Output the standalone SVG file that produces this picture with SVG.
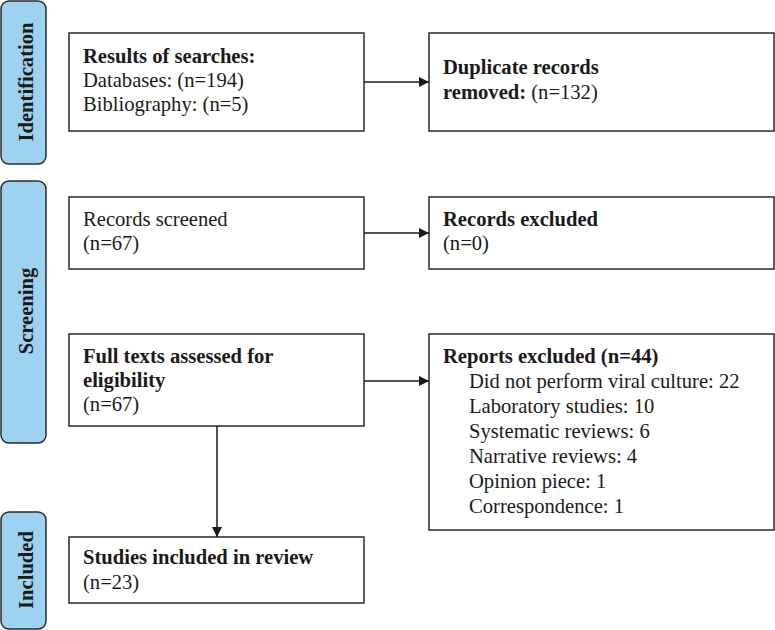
<svg xmlns="http://www.w3.org/2000/svg" width="775" height="630" viewBox="0 0 775 630">
<style>
.tab{fill:#9dd3f0;stroke:#2a2a2a;stroke-width:1.5}
.box{fill:#fff;stroke:#2a2a2a;stroke-width:1.5}
text{font-family:"Liberation Serif","Times New Roman",serif;font-size:20.6px;fill:#1a1a1a}
.b{font-weight:bold}
.tl{font-weight:bold;text-anchor:middle}
.c{stroke:#1a1a1a;stroke-width:1.5;fill:none}
</style>
<defs>
<marker id="ah" viewBox="0 0 10 10" refX="10" refY="5" markerWidth="10" markerHeight="10" markerUnits="userSpaceOnUse" orient="auto">
<path d="M0,0 L10,5 L0,10 z" fill="#1a1a1a"/>
</marker>
</defs>
<rect width="775" height="630" fill="#fff"/>
<g id="tab-identification"><rect class="tab" x="1" y="1" width="45" height="163" rx="8"/><text class="tl" transform="translate(33,82) rotate(-90)">Identification</text></g>
<g id="tab-screening"><rect class="tab" x="1" y="181" width="45" height="262" rx="8"/><text class="tl" transform="translate(33,311) rotate(-90)">Screening</text></g>
<g id="tab-included"><rect class="tab" x="1" y="512" width="45" height="117" rx="8"/><text class="tl" transform="translate(33,570) rotate(-90)">Included</text></g>
<g id="n-search"><rect class="box" x="69" y="33" width="295" height="98"/>
<text x="83" y="63" class="b">Results of searches:</text>
<text x="83" y="87">Databases: (n=194)</text>
<text x="83" y="111">Bibliography: (n=5)</text></g>
<g id="n-duplicates"><rect class="box" x="429" y="33" width="345" height="98"/>
<text x="443" y="74" class="b">Duplicate records</text>
<text x="443" y="99"><tspan class="b">removed:</tspan> (n=132)</text></g>
<g id="n-screened"><rect class="box" x="69" y="197" width="295" height="72"/>
<text x="83" y="226">Records screened</text>
<text x="83" y="250">(n=67)</text></g>
<g id="n-rec-excluded"><rect class="box" x="429" y="197" width="345" height="72"/>
<text x="443" y="226" class="b">Records excluded</text>
<text x="443" y="250">(n=0)</text></g>
<g id="n-fulltext"><rect class="box" x="69" y="334" width="295" height="92"/>
<text x="83" y="363" class="b">Full texts assessed for</text>
<text x="83" y="387" class="b">eligibility</text>
<text x="83" y="411">(n=67)</text></g>
<g id="n-rep-excluded"><rect class="box" x="429" y="334" width="345" height="196"/>
<text x="443" y="363" class="b">Reports excluded (n=44)</text>
<text x="469" y="388">Did not perform viral culture: 22</text>
<text x="469" y="413">Laboratory studies: 10</text>
<text x="469" y="438">Systematic reviews: 6</text>
<text x="469" y="463">Narrative reviews: 4</text>
<text x="469" y="488">Opinion piece: 1</text>
<text x="469" y="513">Correspondence: 1</text></g>
<g id="n-included"><rect class="box" x="69" y="537" width="295" height="66"/>
<text x="83" y="564" class="b">Studies included in review</text>
<text x="83" y="589">(n=23)</text></g>
<g id="connectors">
<line class="c" x1="364" y1="82" x2="429" y2="82" marker-end="url(#ah)"/>
<line class="c" x1="364" y1="233" x2="429" y2="233" marker-end="url(#ah)"/>
<line class="c" x1="364" y1="381" x2="429" y2="381" marker-end="url(#ah)"/>
<line class="c" x1="217" y1="426" x2="217" y2="537" marker-end="url(#ah)"/>
</g>
</svg>
